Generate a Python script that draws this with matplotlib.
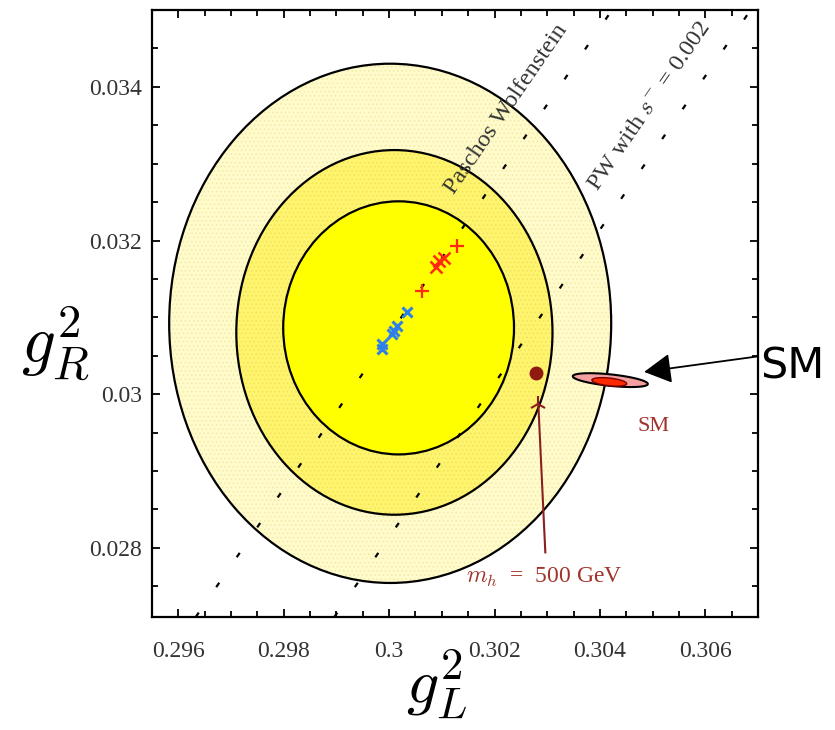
import numpy as np
import matplotlib
matplotlib.use("Agg")
import matplotlib.pyplot as plt
from matplotlib.patches import Ellipse
from matplotlib.ticker import FixedLocator, MultipleLocator

plt.rcParams['mathtext.fontset'] = 'cm'
plt.rcParams['hatch.linewidth'] = 0.6

# axis ranges and ticks
xlim = (0.2955, 0.307)
ylim = (0.0271, 0.0350)
xticks = [0.296, 0.298, 0.300, 0.302, 0.304, 0.306]
xtick_labels = ['0.296', '0.298', '0.3', '0.302', '0.304', '0.306']
yticks = [0.028, 0.030, 0.032, 0.034]
ytick_labels = ['0.028', '0.03', '0.032', '0.034']

# confidence ellipses (outer -> inner): centre x, centre y, half width, half height
ell_cx = [0.30002, 0.30010, 0.30018]
ell_cy = [0.030922, 0.030804, 0.030863]
ell_ax = [0.004194, 0.00300, 0.00219]
ell_ay = [0.003379, 0.002373, 0.001647]
ell_colors = ['#FFFBCB', '#FFF46E', '#FFFF00']
ell_dots = ['#F3E9A8', '#F2E25A', None]

# Paschos-Wolfenstein lines g_R^2 = g_L^2 - offset
pw_offsets = [0.26923, 0.27186]

# model points along the PW line
blue_x = [0.300345, 0.300156, 0.300099, 0.300061, 0.299871, 0.299871]
blue_y = [0.031072, 0.030889, 0.030824, 0.030784, 0.030654, 0.030588]
red_plus_x = [0.300630, 0.301294]
red_plus_y = [0.031346, 0.031935]
red_x_x = [0.300896, 0.300953, 0.301047]
red_x_y = [0.031660, 0.031739, 0.031778]

# Higgs mass point and trajectory
mh_x = [0.302831, 0.302964]
mh_y = [0.029876, 0.027941]
dot_x, dot_y = 0.302793, 0.030275

# SM region
sm_cx, sm_cy = 0.304197, 0.030183
sm_a, sm_b, sm_tilt = 0.000712, 0.000075, -0.07
sm_in_cx, sm_in_cy = 0.304178, 0.030160
sm_in_a, sm_in_b = 0.000330, 0.000050

fig = plt.figure(figsize=(8.35, 7.3), dpi=100)
ax = fig.add_axes([152 / 835, 1 - 617 / 730, 606 / 835, 607 / 730])

for cx, cy, a, b, c, d in zip(ell_cx, ell_cy, ell_ax, ell_ay, ell_colors, ell_dots):
    ax.add_patch(Ellipse((cx, cy), 2 * a, 2 * b, facecolor=c,
                         edgecolor='none', zorder=1))
    if d is not None:
        ax.add_patch(Ellipse((cx, cy), 2 * a, 2 * b, facecolor='none',
                             edgecolor=d, hatch='....', lw=0, zorder=1))
    ax.add_patch(Ellipse((cx, cy), 2 * a, 2 * b, facecolor='none',
                         edgecolor='black', lw=1.6, zorder=1))

# dashed PW lines, starting at the bottom edge
for off in pw_offsets:
    ax.plot([ylim[0] + off, ylim[1] + off], [ylim[0], ylim[1]],
            color='black', lw=1.6, linestyle=(0, (2.4, 13.9)), zorder=2)

ax.text(0.30222, 0.03371, 'Paschos Wolfenstein', rotation=45,
        transform_rotates_text=True, ha='center', va='center',
        family='Liberation Serif', fontsize=17.5, color='#333333')
ax.text(0.30494, 0.03375, r'PW with $s^{-}$ = 0.002', rotation=45,
        transform_rotates_text=True, ha='center', va='center',
        family='Liberation Serif', fontsize=17.5, color='#333333')

ax.plot(blue_x, blue_y, 'x', color='#2F7FEA', ms=7, mew=2.2, zorder=4)
ax.plot(red_plus_x, red_plus_y, '+', color='#FF2A10', ms=10, mew=1.6, zorder=4)
ax.plot(red_x_x, red_x_y, 'x', color='#FF2A10', ms=8, mew=1.8, zorder=4)

# Higgs line and point
ax.plot(mh_x, mh_y, color='#8B1E1E', lw=1.5, zorder=3)
ax.plot(mh_x[0], mh_y[0], marker='2', color='#8B1E1E', ms=12, mew=1.5, zorder=3)
ax.plot(dot_x, dot_y, 'o', color='#8E1A10', ms=9, zorder=4)
ax.text(0.302945, 0.027608, r'$m_h$  =  500 GeV', ha='center', va='center',
        family='Liberation Serif', fontsize=17, color='#A0342C')

# SM ellipse
t = np.linspace(0, 2 * np.pi, 200)
ax.fill(sm_cx + sm_a * np.cos(t), sm_cy + sm_b * np.sin(t) + sm_tilt * sm_a * np.cos(t),
        facecolor='#F4A0A0', edgecolor='black', lw=1.5, zorder=5)
ax.fill(sm_in_cx + sm_in_a * np.cos(t), sm_in_cy + sm_in_b * np.sin(t) + sm_tilt * sm_in_a * np.cos(t),
        facecolor='#FF2A00', edgecolor='#7A0000', lw=1.0, zorder=6)
ax.text(0.305023, 0.029575, 'SM', ha='center', va='center',
        family='Liberation Serif', fontsize=16, color='#A0342C')

ax.annotate('SM', xy=(0.30484, 0.03029), xytext=(0.30766, 0.03036),
            ha='center', va='center', fontsize=31, family='DejaVu Sans',
            annotation_clip=False,
            arrowprops=dict(arrowstyle='-|>,head_length=0.4,head_width=0.22',
                            mutation_scale=42, color='black', lw=1.3,
                            shrinkA=0, shrinkB=0, relpos=(0.0, 0.75)))

ax.set_xlim(xlim)
ax.set_ylim(ylim)
ax.xaxis.set_major_locator(FixedLocator(xticks))
ax.set_xticklabels(xtick_labels)
ax.yaxis.set_major_locator(FixedLocator(yticks))
ax.set_yticklabels(ytick_labels)
ax.xaxis.set_minor_locator(MultipleLocator(0.0005))
ax.yaxis.set_minor_locator(MultipleLocator(0.0005))
ax.tick_params(which='both', direction='in', top=True, right=True, width=1.3)
ax.tick_params(which='major', length=6)
ax.tick_params(which='minor', length=4)
ax.tick_params(axis='x', pad=17)
ax.tick_params(axis='y', pad=7)
for lab in ax.get_xticklabels() + ax.get_yticklabels():
    lab.set_family('Liberation Serif')
    lab.set_fontsize(17)
    lab.set_color('#333333')
for s in ax.spines.values():
    s.set_linewidth(1.6)

ax.set_xlabel(r'$g_L^2$', fontsize=46, labelpad=0)
ax.xaxis.set_label_coords(0.47, -0.05)
ax.set_ylabel(r'$g_R^2$', fontsize=48, rotation=0, va='center', ha='center')
ax.yaxis.set_label_coords(-0.16, 0.45)

fig.savefig('out.png', dpi=100)
